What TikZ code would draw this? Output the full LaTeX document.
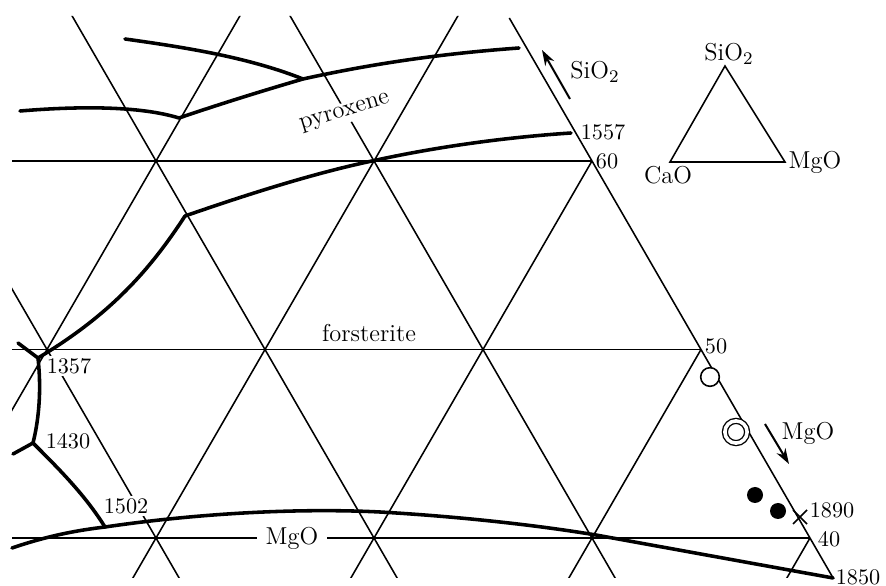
\documentclass[tikz,border=0pt]{standalone}
\usetikzlibrary{arrows.meta}
\begin{document}
\begin{tikzpicture}[x=0.45pt, y=-0.45pt, >={Stealth[length=7pt,width=4.6pt]}]
        % --- Définition des styles ---
        \tikzset{
            grid_line/.style={line width=0.7pt},
            bound_line/.style={line width=1.6pt, line cap=round, line join=round},
            lbl/.style={font=\fontsize{10}{12}\selectfont, inner sep=1pt},
            word/.style={font=\fontsize{11}{13}\selectfont, inner sep=1pt},
            cut/.style={fill=white},
            dir_arrow/.style={->, line width=0.9pt},
            pt_open/.style={circle, draw, fill=white, line width=0.7pt, minimum size=8.4pt, inner sep=0pt},
            pt_double/.style={pt_open, double, double distance=1.6pt, line width=0.6pt, minimum size=10pt},
            pt_full/.style={circle, fill, minimum size=7.2pt, inner sep=0pt}
        }
        \useasboundingbox (0,0) rectangle (886,586);

        % =====================================================================
        % GRILLE TRIANGULAIRE
        % =====================================================================
        \coordinate (edge_top) at (509.3,18);
        \coordinate (edge_bot) at (833.1,578);
        \begin{scope}
            \clip (12,16) -- (508.2,16) -- (833.1,578) -- (12,578) -- cycle;
            % Horizontales
            \foreach \y in {161,349.5,538} {
                \draw[grid_line] (0,\y) -- (900,\y);
            }
            % Obliques montantes
            \foreach \x in {47,265,483,701,919} {
                \draw[grid_line] (\x-218,726.5) -- (\x+218,-27.5);
            }
            % Obliques descendantes
            \foreach \x in {47,265,483} {
                \draw[grid_line] (\x-218,-27.5) -- (\x+218,726.5);
            }
        \end{scope}
        % Côté SiO2 -- MgO
        \draw[grid_line] (edge_top) -- (edge_bot);

        % Étiquettes posées sur les traits
        \node[word, cut, rotate=17] (pyr) at (345,113) {pyroxene};
        \node[word] (fo) at (369,333) {forsterite};
        \node[word, cut, inner xsep=4pt] (mgo_b) at (292,538) {MgO};
        \node[lbl, cut] (t1357) at (69,366) {1357};
        \node[lbl] (t1430) at (68,441) {1430};
        \node[lbl, cut] (t1502) at (126,506) {1502};
        \node[lbl] (t1557) at (603,132) {1557};
        \node[lbl] (t60) at (607,161) {60};
        \node[lbl] (t50) at (716,346) {50};
        \node[lbl] (t40) at (829,539) {40};
        \node[lbl] (t1890) at (832,510) {1890};
        \node[lbl, inner sep=0pt] (t1850) at (858,577) {1850};

        % =====================================================================
        % COURBES LIMITES
        % =====================================================================
        \coordinate (J1) at (303,79);
        \coordinate (J2) at (179,118);
        \coordinate (J3) at (185,216);
        \coordinate (J4) at (38,358);
        \coordinate (J5) at (33,443);
        \coordinate (J6) at (105,527);

        \draw[bound_line] (125,39) .. controls (190,48) and (250,58) .. (J1);
        \draw[bound_line] (20,111) .. controls (80,106) and (140,106) .. (J2);
        \draw[bound_line] (J2) .. controls (220,104) and (262,91) .. (J1)
            .. controls (380,62) and (450,53) .. (519,48);
        \draw[bound_line] (J3) .. controls (260,190) and (320,172) .. (372,161)
            .. controls (440,146) and (510,137) .. (571,133);
        \draw[bound_line] (J3) .. controls (150,270) and (110,315) .. (J4);
        \draw[bound_line] (18,343) -- (J4);
        \draw[bound_line] (J4) .. controls (41,385) and (40,415) .. (J5);
        \draw[bound_line] (J5) -- (13,454);
        \draw[bound_line] (J5) .. controls (60,470) and (85,495) .. (J6);
        \draw[bound_line] (12,548) .. controls (50,535) and (80,530) .. (J6)
            .. controls (200,513) and (300,508) .. (380,512)
            .. controls (450,516) and (530,524) .. (596,535) -- (edge_bot);

        % =====================================================================
        % POINTS EXPÉRIMENTAUX ET FLÈCHES
        % =====================================================================
        \node[pt_open] (p1) at (710,377) {};
        \node[pt_double] (p2) at (736,432) {};
        \node[pt_full] (p3) at (755,495) {};
        \node[pt_full] (p4) at (778,511) {};
        \coordinate (x1890) at (800,517);
        \draw[grid_line] ([shift={(-7,-7)}]x1890) -- ([shift={(7,7)}]x1890)
            ([shift={(-7,7)}]x1890) -- ([shift={(7,-7)}]x1890);

        \coordinate (si_a) at (570,99);
        \coordinate (si_b) at (542,50);
        \draw[dir_arrow] (si_a) -- (si_b);
        \node[word] (si_lbl) at (595,72) {SiO$_2$};

        \coordinate (mg_a) at (765,424);
        \coordinate (mg_b) at (789,464);
        \draw[dir_arrow] (mg_a) -- (mg_b);
        \node[word] (mg_lbl) at (808,433) {MgO};

        % =====================================================================
        % PETIT TRIANGLE DE RÉFÉRENCE
        % =====================================================================
        \coordinate (tS) at (725,66);
        \coordinate (tC) at (670,162);
        \coordinate (tM) at (785,162);
        \draw[grid_line] (tS) -- (tC) -- (tM) -- cycle;
        \node[word] (lS) at (729,54) {SiO$_2$};
        \node[word] (lC) at (668,175) {CaO};
        \node[word] (lM) at (815,162) {MgO};

    \end{tikzpicture}
\end{document}
